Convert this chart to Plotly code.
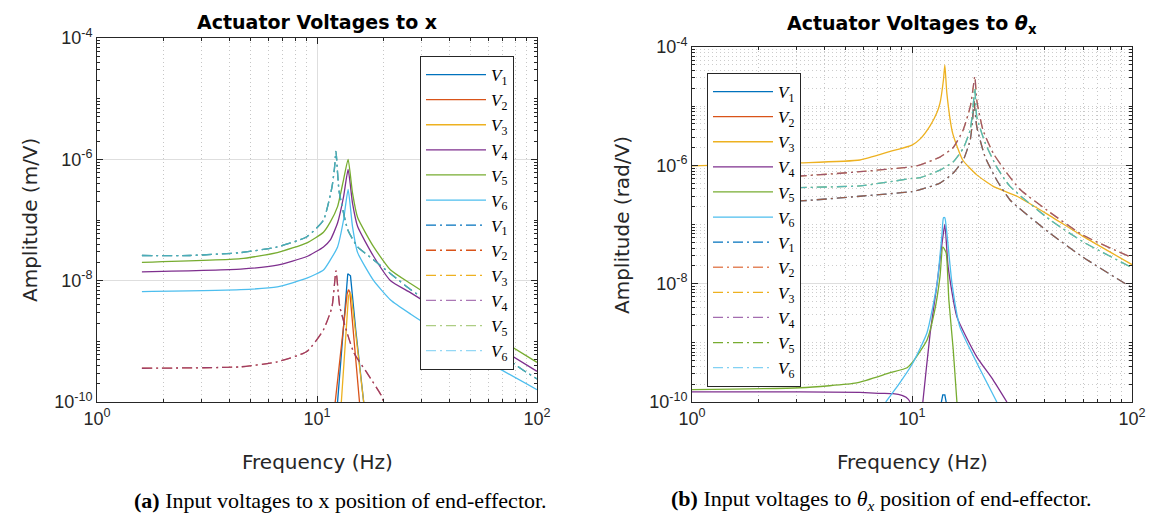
import plotly.graph_objects as go

# ---------------- colours (MATLAB default order) ----------------
COL = {1: "#0072BD", 2: "#D95319", 3: "#EDB120", 4: "#7E2F8E", 5: "#77AC30", 6: "#4DBEEE"}

# ---------------- Panel (a): actuator voltages to x ----------------
a_f_V1 = [12.4, 13.2, 13.8, 14.2, 15.0, 16.3]
a_V1 = [1e-10, 1.55e-9, 1.3e-8, 1.2e-8, 1.55e-9, 1e-10]
a_f_V2 = [12.1, 13.7, 13.9, 14.1, 15.6]
a_V2 = [1e-10, 6.0e-9, 7.1e-9, 6.5e-9, 1e-10]
a_f_V3 = [12.9, 13.9, 14.1, 14.3, 16.3]
a_V3 = [1e-10, 5.5e-9, 6.3e-9, 5.8e-9, 1e-10]

a_f_sol = [1.6, 4.5, 6.6, 9.0, 10.7, 11.5, 12.4, 13.2, 13.85, 14.5, 15.3, 18.1, 21.6, 26.7, 40, 60, 100]
a_V4 = [1.4e-8, 1.55e-8, 1.8e-8, 2.5e-8, 3.6e-8, 4.7e-8, 8.9e-8, 2.4e-7, 6.8e-7, 1.9e-7, 7.8e-8,
        2.5e-8, 1.0e-8, 6.3e-9, 2.5e-9, 1.0e-9, 3.2e-10]
a_V5 = [2.0e-8, 2.3e-8, 2.9e-8, 4.2e-8, 6.3e-8, 9.3e-8, 1.66e-7, 4.6e-7, 1.0e-6, 2.8e-7, 1.1e-7,
        3.6e-8, 1.5e-8, 8.9e-9, 3.5e-9, 1.4e-9, 4.5e-10]
a_V6 = [6.6e-9, 7.1e-9, 7.9e-9, 1.1e-8, 1.5e-8, 2.2e-8, 3.6e-8, 1.0e-7, 3.2e-7, 7.8e-8, 2.9e-8,
        1.0e-8, 4.8e-9, 2.8e-9, 1.1e-9, 4.5e-10, 1.6e-10]

a_f_dd_hi = [1.6, 2.65, 4.5, 6.6, 9.0, 10.7, 11.7, 12.0, 12.2, 12.4, 12.6, 13.8, 15.3, 18.1, 21.6,
             26.7, 40, 60, 85, 100]
a_dd_hi = [2.6e-8, 2.6e-8, 2.9e-8, 3.6e-8, 5.3e-8, 1.0e-7, 3.5e-7, 7.0e-7, 1.35e-6, 6.0e-7, 3.0e-7,
           6.9e-8, 3.6e-8, 2.2e-8, 1.3e-8, 7.1e-9, 2.5e-9, 8.9e-10, 3.5e-10, 2.4e-10]
a_f_dd_lo = [1.6, 4.5, 6.6, 9.0, 10.7, 11.7, 12.2, 12.7, 14.7, 16.9, 19.8, 20.0]
a_dd_lo = [3.6e-10, 3.8e-10, 4.6e-10, 6.8e-10, 1.55e-9, 3.7e-9, 1.45e-8, 3.7e-9, 6.5e-10, 3.0e-10,
           1.2e-10, 1e-10]

# ---------------- Panel (b): actuator voltages to theta_x ----------------
b_f_V1 = [13.6, 13.8, 14.1, 14.3]
b_V1 = [1e-10, 1.32e-10, 1.32e-10, 1e-10]
b_f_V3 = [1.0, 3.1, 5.8, 7.9, 10.0, 10.9, 12.1, 13.0, 13.4, 13.9, 14.1, 14.4, 15.3, 17.0, 19.7,
          23.4, 30.0, 42.4, 59.9, 100]
b_V3 = [9.8e-7, 1.1e-6, 1.23e-6, 1.7e-6, 2.2e-6, 2.8e-6, 4.7e-6, 7.9e-6, 1.12e-5, 2.8e-5, 5.0e-5,
        1.66e-5, 3.5e-6, 1.23e-6, 6.9e-7, 4.4e-7, 3.0e-7, 1.4e-7, 6.3e-8, 2.1e-8]
b_f_V4 = [1.0, 3.1, 5.8, 7.2, 8.2, 9.0, 9.4, 9.8, 10.5, 11.2, 12.1, 13.0, 13.7, 14.1, 14.6, 16.0,
          19.7, 23.4, 27.0]
b_V4 = [1.48e-10, 1.48e-10, 1.45e-10, 1.4e-10, 1.38e-10, 1.3e-10, 1.2e-10, 1e-10, 1e-11, 1e-10,
        1.48e-9, 1.0e-8, 4.9e-8, 1.0e-7, 1.9e-8, 2.75e-9, 5.8e-10, 2.35e-10, 1e-10]
b_f_V5 = [1.0, 3.1, 5.6, 7.9, 9.5, 10.1, 11.7, 12.7, 13.4, 13.8, 14.3, 14.7, 15.4, 16.0]
b_V5 = [1.62e-10, 1.74e-10, 2.1e-10, 3.1e-10, 3.8e-10, 4.8e-10, 1.12e-9, 3.6e-9, 1.3e-8, 4.2e-8,
        3.3e-8, 5.4e-9, 7.6e-10, 1e-10]
b_f_V6 = [7.6, 8.8, 10.1, 11.7, 13.0, 13.7, 13.9, 14.1, 14.4, 15.2, 16.5, 19.7, 24.3]
b_V6 = [1e-10, 2.1e-10, 4.6e-10, 1.48e-9, 1.0e-8, 7.2e-8, 1.3e-7, 1.3e-7, 7.2e-8, 1.0e-8, 1.86e-9,
        4.6e-10, 1e-10]

b_f_dd_hi = [1.6, 3.1, 5.8, 10.0, 10.9, 13.4, 15.4, 17.1, 18.4, 18.9, 19.3, 19.7, 21.0, 23.4, 27.0,
             31.0, 42.4, 59.9, 100]
b_dd_hi = [6.2e-7, 6.6e-7, 7.8e-7, 9.5e-7, 1.02e-6, 1.38e-6, 2.0e-6, 4.0e-6, 9.8e-6, 1.86e-5, 3.2e-5,
           1.26e-5, 4.0e-6, 1.6e-6, 7.4e-7, 3.9e-7, 1.6e-7, 6.6e-8, 2.75e-8]
b_f_dd_mid = [1.6, 3.1, 5.8, 10.0, 10.9, 13.4, 15.4, 17.1, 18.4, 18.9, 19.3, 19.7, 21.5, 24.3, 27.9,
              42.4, 59.9, 100]
b_dd_mid = [3.8e-7, 4.2e-7, 4.5e-7, 6.0e-7, 6.2e-7, 8.3e-7, 1.15e-6, 1.95e-6, 4.0e-6, 8.7e-6, 2.0e-5,
            6.6e-6, 2.4e-6, 9.3e-7, 4.4e-7, 1.2e-7, 5.1e-8, 1.86e-8]
b_f_dd_lo = [1.6, 3.1, 5.8, 10.0, 10.9, 13.4, 15.4, 17.1, 18.4, 18.9, 19.1, 19.7, 21.5, 24.3, 27.9,
             42.4, 59.9, 100]
b_dd_lo = [2.3e-7, 2.5e-7, 3.0e-7, 3.6e-7, 3.9e-7, 5.0e-7, 7.4e-7, 1.23e-6, 2.7e-6, 6.6e-6, 1.26e-5,
           4.5e-6, 1.38e-6, 5.6e-7, 2.6e-7, 7.1e-8, 2.8e-8, 8.5e-9]

x_ticks = [1, 10, 100]
x_ticktext = ["10<sup>0</sup>", "10<sup>1</sup>", "10<sup>2</sup>"]
y_ticks = [1e-10, 1e-8, 1e-6, 1e-4]
y_ticktext = ["10<sup>-10</sup>", "10<sup>-8</sup>", "10<sup>-6</sup>", "10<sup>-4</sup>"]

# page is 1157x521; the HTML body adds an 8px margin, so the figure is drawn 8px smaller
OFF = 8
W, H = 1157 - OFF, 521 - OFF


def px(p):
    return (p - OFF) / W


def py(p):
    return 1 - (p - OFF) / H


DASHDOT = "10px,4px,2px,4px"
SERIF = "Liberation Serif"
SANS = "Liberation Sans"
WIDE = "DejaVu Sans"
AX = "#262626"

fig = go.Figure()


def vname(i):
    return f"<i>V</i><sub>{i}</sub>"


def add(x, y, i, dashdot, panel, opacity=1.0, smooth=True):
    rank = i + (6 if dashdot else 0)
    if len(x) == 0:
        x, y = [None], [None]
    line = dict(color=COL[i], width=1.3, dash=DASHDOT if dashdot else "solid")
    if smooth:
        line.update(shape="spline", smoothing=0.5)
    fig.add_trace(go.Scatter(
        x=x, y=y, name=vname(i), mode="lines", line=line, opacity=opacity,
        xaxis="x" if panel == 1 else "x2", yaxis="y" if panel == 1 else "y2",
        legend="legend" if panel == 1 else "legend2", legendrank=rank,
        hoverinfo="skip"))


# panel (a) traces
add(a_f_V1, a_V1, 1, False, 1, smooth=False)
add(a_f_V2, a_V2, 2, False, 1, smooth=False)
add(a_f_V3, a_V3, 3, False, 1, smooth=False)
add(a_f_sol, a_V4, 4, False, 1)
add(a_f_sol, a_V5, 5, False, 1)
add(a_f_sol, a_V6, 6, False, 1)
add(a_f_dd_hi, a_dd_hi, 1, True, 1)
add(a_f_dd_lo, a_dd_lo, 2, True, 1)
add([], [], 3, True, 1)
add(a_f_dd_lo, a_dd_lo, 4, True, 1, 0.65)
add(a_f_dd_hi, a_dd_hi, 5, True, 1, 0.6)
add(a_f_dd_hi, a_dd_hi, 6, True, 1, 0.6)

# panel (b) traces
add(b_f_V1, b_V1, 1, False, 2, smooth=False)
add([], [], 2, False, 2)
add(b_f_V3, b_V3, 3, False, 2)
add(b_f_V4, b_V4, 4, False, 2)
add(b_f_V5, b_V5, 5, False, 2)
add(b_f_V6, b_V6, 6, False, 2)
add(b_f_dd_lo, b_dd_lo, 1, True, 2)
add(b_f_dd_lo, b_dd_lo, 2, True, 2, 0.7)
add(b_f_dd_hi, b_dd_hi, 3, True, 2)
add(b_f_dd_hi, b_dd_hi, 4, True, 2, 0.7)
add(b_f_dd_mid, b_dd_mid, 5, True, 2)
add(b_f_dd_mid, b_dd_mid, 6, True, 2, 0.7)

x_minor = [k * 10 ** e for e in (0, 1) for k in range(2, 10)]
y_minor = [k * 10.0 ** e for e in range(-10, -4) for k in range(1, 10) if not (k == 1 and e % 2 == 0)]

tickfont = dict(family=SANS, size=18, color=AX)


def xaxis(domain, anchor):
    return dict(type="log", range=[0, 2], domain=domain, anchor=anchor, automargin=False,
                tickmode="array", tickvals=x_ticks, ticktext=x_ticktext,
                ticks="inside", ticklen=6, tickcolor=AX, tickfont=tickfont,
                showline=True, linecolor=AX, linewidth=1, mirror="ticks",
                showgrid=True, gridcolor="#dedede", gridwidth=1, zeroline=False,
                minor=dict(tickvals=x_minor, ticks="inside", ticklen=3, tickcolor=AX,
                           showgrid=True, gridcolor="#c6c6c6", griddash="1px,3px", gridwidth=1))


def yaxis(domain, anchor, minor_grid):
    return dict(type="log", range=[-10, -4], domain=domain, anchor=anchor, automargin=False,
                tickmode="array", tickvals=y_ticks, ticktext=y_ticktext,
                ticks="inside", ticklen=6, tickcolor=AX, tickfont=tickfont,
                showline=True, linecolor=AX, linewidth=1, mirror="ticks",
                showgrid=True, gridcolor="#dedede", gridwidth=1, zeroline=False,
                minor=dict(tickvals=y_minor, ticks="inside", ticklen=3, tickcolor=AX,
                           showgrid=minor_grid, gridcolor="#cccccc", griddash="1px,3px", gridwidth=1))


legend_common = dict(xanchor="left", yanchor="top", bgcolor="white", bordercolor=AX, borderwidth=1,
                     font=dict(family=SERIF, size=17, color="black"), itemwidth=60,
                     tracegroupgap=0, traceorder="normal")

fig.update_layout(
    width=W, height=H, margin=dict(l=0, r=0, t=0, b=0, autoexpand=False),
    paper_bgcolor="white", plot_bgcolor="white", showlegend=True,
    xaxis=xaxis([px(97), px(537)], "y"),
    yaxis=yaxis([py(402), py(38)], "x", False),
    xaxis2=xaxis([px(692), px(1132)], "y2"),
    yaxis2=yaxis([py(402), py(47)], "x2", True),
    legend=dict(x=px(420), y=py(56), **legend_common),
    legend2=dict(x=px(707), y=py(73), **legend_common),
)

ann = [
    dict(text="<b>Actuator Voltages to x</b>", x=px(317), y=py(22),
         font=dict(family=WIDE, size=19, color="black")),
    dict(text="<b>Actuator Voltages to <i>θ</i><sub>x</sub></b>", x=px(912), y=py(24),
         font=dict(family=WIDE, size=19, color="black")),
    dict(text="Amplitude (m/V)", x=px(30), y=py(220), textangle=-90,
         font=dict(family=WIDE, size=20, color=AX)),
    dict(text="Amplitude (rad/V)", x=px(622), y=py(225), textangle=-90,
         font=dict(family=WIDE, size=20, color=AX)),
    dict(text="Frequency (Hz)", x=px(317), y=py(462), font=dict(family=WIDE, size=20, color=AX)),
    dict(text="Frequency (Hz)", x=px(912), y=py(462), font=dict(family=WIDE, size=20, color=AX)),
    dict(text="<b>(a)</b> Input voltages to x position of end-effector.", x=px(340), y=py(500),
         font=dict(family=SERIF, size=22, color="black")),
    dict(text="<b>(b)</b> Input voltages to <i>θ<sub>x</sub></i> position of end-effector.",
         x=px(881), y=py(500), font=dict(family=SERIF, size=22, color="black")),
]
for a in ann:
    a.update(xref="paper", yref="paper", showarrow=False, xanchor="center", yanchor="middle")
fig.update_layout(annotations=ann)

fig.write_html("out.html")
